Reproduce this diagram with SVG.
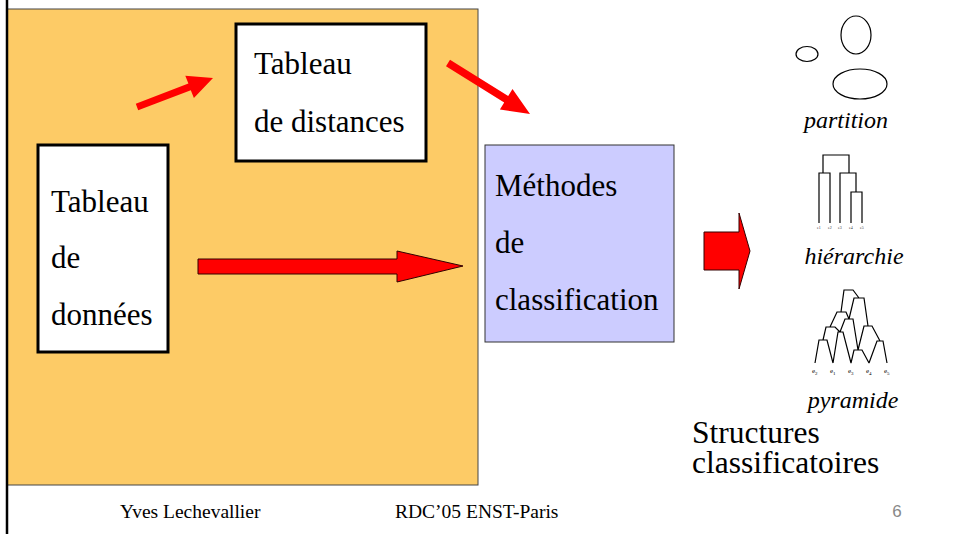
<svg xmlns="http://www.w3.org/2000/svg" width="956" height="534" viewBox="0 0 956 534">
<style>
.t{font-family:"Liberation Serif","Times New Roman",serif;fill:#000}
.big{font-size:31px}
.str{font-size:31.5px}
.it{font-size:24px;font-style:italic}
.box{fill:#fff;stroke:#000;stroke-width:3}
.ar{fill:#f00}
.ars{fill:#f00;stroke:#300;stroke-width:1}
.ln{fill:none;stroke:#000;stroke-width:1.2}
.tiny{font-family:"Liberation Serif",serif;font-size:4px;fill:#333}
.lab{font-family:"Liberation Serif",serif;font-size:7px;fill:#000}
.foot{font-family:"Liberation Serif","Times New Roman",serif;font-size:19.5px;fill:#000}
</style>
<rect width="956" height="534" fill="#fff"/>
<g id="background">
<rect x="7" y="9" width="471" height="476" fill="#FDCB66" stroke="#444" stroke-width="1"/>
<line x1="7" y1="0" x2="7" y2="534" stroke="#000" stroke-width="2.5"/>
</g>
<g id="tableau-distances">
<rect class="box" x="236" y="24" width="190" height="137"/>
<text class="t big" x="254" y="74">Tableau</text>
<text class="t big" x="254" y="132">de distances</text>
</g>
<g id="tableau-donnees">
<rect class="box" x="38" y="145" width="130" height="207"/>
<text class="t big" x="51" y="212">Tableau</text>
<text class="t big" x="51" y="268">de</text>
<text class="t big" x="51" y="325">données</text>
</g>
<g id="methodes">
<rect x="485" y="145" width="189" height="197" fill="#CCCCFF" stroke="#333" stroke-width="1"/>
<text class="t big" x="495" y="196">Méthodes</text>
<text class="t big" x="495" y="253">de</text>
<text class="t big" x="495" y="310">classification</text>
</g>
<g id="connectors">
<polygon class="ar" points="135.8,103.7 188.4,83.6 185.3,75.7 213,78 193.9,98.1 190.8,90.2 138.2,110.3"/>
<polygon class="ar" points="450,59.8 508.2,96 512.5,89 530,114 499.9,109.4 504.2,102.4 446,66.2"/>
<polygon class="ars" points="198,259 397,259 397,251 463,266 397,282 397,274 198,274"/>
<polygon class="ars" points="704,232 739,232 739,213 750,251 739,289 739,270 704,270"/>
</g>
<g id="partition">
<ellipse class="ln" cx="807" cy="54" rx="11" ry="7.5"/>
<ellipse class="ln" cx="856" cy="35" rx="15" ry="19"/>
<ellipse class="ln" cx="860" cy="84" rx="27" ry="15"/>
<text class="t it" x="846" y="128" text-anchor="middle">partition</text>
</g>
<g id="hierarchie">
<path class="ln" d="M823,173 V155 H849 V173 M819,223 V173 H830 V223 M840,223 V173 H856 V192 M851,223 V192 H862 V223"/>
<text class="tiny" x="817" y="229">e1</text>
<text class="tiny" x="828" y="229">e2</text>
<text class="tiny" x="838" y="229">e3</text>
<text class="tiny" x="849" y="229">e4</text>
<text class="tiny" x="860" y="229">e5</text>
<text class="t it" x="854" y="264" text-anchor="middle">hiérarchie</text>
</g>
<g id="pyramide">
<path class="ln" d="M815,363 L819,340 H827 L833,363 M833,363 L838,332 H843 L851,363 M851,363 L854,350 H862 L869,363 M869,363 L877,341 H883 L887,363 M823,340 L826,327 H835 L840,332 M840,332 L845,319 H853 L858,350 M858,350 L864,326 H872 L880,341 M830,327 L837,312 H846 L849,319 M849,319 L854,298 H864 L868,326 M841,312 L844,290 H853 L859,298"/>
<text class="lab" x="812" y="373">e<tspan font-size="5" dy="2">2</tspan></text>
<text class="lab" x="830" y="373">e<tspan font-size="5" dy="2">1</tspan></text>
<text class="lab" x="848" y="373">e<tspan font-size="5" dy="2">3</tspan></text>
<text class="lab" x="866" y="373">e<tspan font-size="5" dy="2">4</tspan></text>
<text class="lab" x="884" y="373">e<tspan font-size="5" dy="2">5</tspan></text>
<text class="t it" x="853" y="408" text-anchor="middle">pyramide</text>
</g>
<g id="structures">
<text class="t str" x="692" y="443">Structures<tspan x="692" y="473">classificatoires</tspan></text>
</g>
<g id="footer">
<text class="foot" x="120" y="518">Yves Lechevallier</text>
<text class="foot" x="395" y="518">RDC’05 ENST-Paris</text>
<text x="897" y="517" text-anchor="middle" font-family="Liberation Sans, Arial, sans-serif" font-size="17" fill="#888">6</text>
</g>
</svg>
